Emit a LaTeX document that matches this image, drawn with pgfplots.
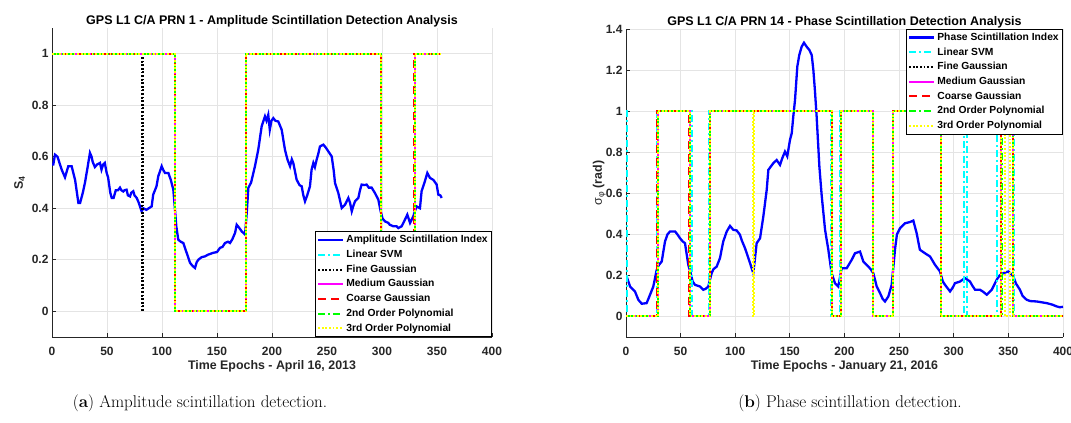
\documentclass[border=0pt]{standalone}
\usepackage{fontspec}
\usepackage{pgfplots}
\pgfplotsset{compat=1.18}
\newfontfamily\hv{Liberation Sans}
\definecolor{gridgray}{RGB}{228,228,228}
\definecolor{axgray}{RGB}{38,38,38}
\definecolor{mygreen}{RGB}{0,255,0}
\definecolor{myyellow}{RGB}{255,255,0}
\definecolor{mycyan}{RGB}{0,255,255}
\definecolor{mymag}{RGB}{255,0,255}

\pgfplotsset{
  mystyle/.style={
    scale only axis,
    axis x line*=bottom, axis y line*=left,
    axis line style={draw=axgray, line width=0.8pt, -},
    grid=major, grid style={gridgray, line width=0.8pt},
    tick style={axgray, line width=0.8pt},
    major tick length=4pt,
    tick align=inside,
    xmin=0, xmax=400, xtick={0,50,...,400},
    ticklabel style={font=\hv\bfseries\fontsize{12}{14}\selectfont, text=axgray},
    xticklabel style={anchor=base, yshift=-19pt},
    /pgf/number format/assume math mode=true,
    xlabel style={font=\hv\bfseries\fontsize{12.4}{14}\selectfont, text=axgray, at={(axis description cs:0.5,0)}, anchor=base, yshift=-33pt},
    ylabel style={font=\hv\bfseries\fontsize{12.4}{14}\selectfont, text=axgray},
    title style={font=\hv\bfseries\fontsize{12.5}{14}\selectfont, at={(axis description cs:0.5,1)}, anchor=base, yshift=-2.5pt},
    legend cell align=left,
    legend style={font=\hv\bfseries\fontsize{10.3}{12}\selectfont, draw=black, line width=0.6pt, fill=white,
      inner xsep=2pt, inner ysep=1pt,
      nodes={text height=7.6pt, text depth=2.2pt, inner ysep=2.45pt, inner xsep=2pt}},
    legend image code/.code={\draw[##1] (0pt,0pt) -- (25pt,0pt);},
    every axis plot/.append style={line width=2pt},
  },
  idx/.style={blue, solid, line width=2.3pt},
  svm/.style={mycyan, dash pattern=on 7pt off 3pt on 2pt off 3pt},
  fine/.style={black, dash pattern=on 1.8pt off 1.8pt},
  med/.style={mymag, solid},
  coarse/.style={red, dash pattern=on 8pt off 5pt},
  poly2/.style={mygreen, dash pattern=on 7pt off 3pt on 2pt off 3pt},
  poly3/.style={myyellow, dash pattern=on 1.8pt off 1.8pt},
}

\begin{document}
\begin{tikzpicture}[x=1pt,y=1pt]
\useasboundingbox (0,0) rectangle (1071,423);

% ---------------- Left: amplitude ----------------
\begin{axis}[mystyle,
  at={(52pt,86pt)}, anchor=south west,
  width=440pt, height=309pt,
  ymin=-0.1, ymax=1.1, ytick={0,0.2,...,1},
  title={GPS L1 C/A PRN 1 - Amplitude Scintillation Detection Analysis},
  xlabel={Time Epochs - April 16, 2013},
  ylabel={S\textsubscript{4}},
  ylabel style={at={(axis description cs:-0.066,0.5)}, anchor=base},
  legend style={at={(axis description cs:1,0)}, anchor=south east},
]
\addplot[idx] coordinates {
(0,0.57)(1.2,0.57)(2.7,0.608)(5,0.60)(8.8,0.55)(11.8,0.52)(14.8,0.563)(17.9,0.563)(21,0.51)(24,0.42)(25.5,0.42)(28,0.46)(30,0.50)(32,0.55)(34.5,0.615)(36,0.60)(37,0.58)(39,0.56)(41,0.57)(43.6,0.576)(45,0.55)(46.5,0.57)(48,0.576)(49.7,0.537)(51,0.52)(53,0.46)(54.3,0.44)(56,0.44)(58,0.47)(60,0.47)(61.8,0.48)(63,0.47)(64.8,0.465)(66,0.47)(67.8,0.472)(69,0.45)(70.9,0.446)(72,0.46)(73.9,0.466)(75,0.45)(77,0.44)(79,0.42)(81.5,0.388)(83,0.40)(85.8,0.394)(88,0.40)(90.6,0.407)(92,0.453)(95,0.485)(96.6,0.524)(99.7,0.563)(101,0.55)(102.7,0.537)(105.8,0.537)(108,0.51)(110.3,0.472)(111.8,0.395)(113,0.33)(114.8,0.278)(117,0.27)(119.4,0.265)(122.4,0.227)(125.5,0.188)(128,0.175)(130,0.168)(131.5,0.19)(133,0.2)(136,0.21)(139,0.213)(142,0.22)(146.7,0.227)(150,0.23)(152.7,0.246)(155,0.25)(157.3,0.265)(160,0.27)(161.8,0.265)(164,0.28)(166.4,0.304)(167.9,0.336)(170,0.325)(172.5,0.31)(175.5,0.298)(177,0.38)(178.5,0.479)(181,0.5)(184.5,0.563)(187.5,0.627)(190.6,0.718)(193.6,0.757)(195,0.74)(196.6,0.763)(198,0.705)(199.5,0.74)(201.2,0.75)(203,0.74)(205.7,0.737)(208.8,0.705)(211.8,0.627)(214,0.59)(216.4,0.563)(218,0.59)(219.4,0.575)(222.4,0.511)(225,0.49)(227,0.485)(228.5,0.45)(230,0.427)(232,0.45)(234.5,0.485)(236,0.55)(237.6,0.576)(239,0.56)(240.6,0.589)(242,0.61)(243.6,0.64)(246.7,0.647)(249,0.635)(251.2,0.621)(254.3,0.601)(256,0.55)(257.3,0.498)(260.3,0.459)(263.4,0.401)(266.4,0.414)(269.4,0.44)(271,0.42)(272.5,0.388)(274,0.41)(275.5,0.427)(278.5,0.44)(280,0.47)(281.5,0.492)(284,0.49)(286,0.492)(288,0.48)(290.6,0.48)(293.6,0.459)(296.7,0.433)(298.8,0.388)(300.5,0.36)(302.7,0.349)(305.8,0.343)(307,0.336)(310.3,0.33)(313.3,0.33)(314.8,0.323)(317.9,0.33)(320.9,0.356)(323,0.375)(325.5,0.343)(328.5,0.369)(330,0.39)(331.5,0.407)(334.5,0.40)(336,0.466)(339,0.505)(341.2,0.537)(343.6,0.518)(346.7,0.51)(349.7,0.492)(351.2,0.453)(353,0.45)(354.3,0.44)
};
\addlegendentry{Amplitude Scintillation Index}
\addplot[svm] coordinates {(0,1)(112,1)(112,0)(176,0)(176,1)(299.5,1)(299.5,0)(330,0)(330,1)(354,1)};
\addlegendentry{Linear SVM}
\addplot[fine] coordinates {(0,1)(82,1)(82,0)(83,0)(83,1)(112,1)(112,0)(176,0)(176,1)(299.5,1)(299.5,0)(330,0)(330,1)(354,1)};
\addlegendentry{Fine Gaussian}
\addplot[med] coordinates {(0,1)(112,1)(112,0)(176,0)(176,1)(299.5,1)(299.5,0)(330,0)(330,1)(354,1)};
\addlegendentry{Medium Gaussian}
\addplot[coarse] coordinates {(0,1)(112,1)(112,0)(176,0)(176,1)(299.5,1)(299.5,0)(329,0)(329,1)(354,1)};
\addlegendentry{Coarse Gaussian}
\addplot[poly2] coordinates {(0,1)(112,1)(112,0)(176,0)(176,1)(299.5,1)(299.5,0)(330,0)(330,1)(354,1)};
\addlegendentry{2nd Order Polynomial}
\addplot[poly3] coordinates {(0,1)(112,1)(112,0)(176,0)(176,1)(299.5,1)(299.5,0)(330,0)(330,1)(354,1)};
\addlegendentry{3rd Order Polynomial}
\end{axis}

% ---------------- Right: phase ----------------
\begin{axis}[mystyle,
  at={(626pt,86pt)}, anchor=south west,
  width=437pt, height=308pt,
  ymin=-0.1, ymax=1.4, ytick={0,0.2,...,1.4},
  title={GPS L1 C/A PRN 14 - Phase Scintillation Detection Analysis},
  xlabel={Time Epochs - January 21, 2016},
  ylabel={{\mdseries σ\textsubscript{φ}} (rad)},
  ylabel style={at={(axis description cs:-0.055,0.5)}, anchor=base},
  legend style={at={(axis description cs:1,1)}, anchor=north east},
]
\addplot[idx] coordinates {
(0,0.2)(0.6,0.195)(3.7,0.146)(8.2,0.122)(11.3,0.081)(14.4,0.062)(18.9,0.065)(22,0.106)(25,0.146)(28.1,0.227)(30,0.25)(32.7,0.268)(35.7,0.365)(38,0.40)(40.3,0.414)(44.9,0.414)(47,0.40)(49.4,0.381)(52,0.365)(54,0.357)(57,0.252)(59.2,0.211)(61,0.17)(63.2,0.154)(67.7,0.146)(70.8,0.13)(73,0.135)(75.3,0.146)(78.4,0.211)(80,0.23)(83,0.243)(86,0.284)(89,0.365)(92.2,0.414)(95.2,0.441)(98.2,0.422)(101.3,0.419)(104.3,0.398)(106,0.37)(108.9,0.333)(111,0.30)(113.5,0.26)(116.5,0.211)(118,0.28)(119.6,0.357)(122.7,0.381)(125.7,0.487)(128.8,0.617)(130.3,0.714)(134.8,0.746)(137.9,0.762)(141,0.738)(143,0.77)(145.5,0.803)(147.6,0.78)(150.1,0.86)(151.7,0.892)(153.1,0.973)(154.7,1.054)(156.8,1.217)(158.6,1.273)(160.8,1.314)(162.9,1.333)(165.3,1.314)(167.8,1.298)(170,1.273)(171.5,1.2)(173,1.095)(174.5,0.973)(177,0.73)(179.1,0.59)(182.2,0.422)(185.2,0.325)(188.2,0.211)(191.3,0.162)(194.3,0.146)(197.4,0.235)(202,0.235)(206.6,0.276)(209.6,0.308)(214.2,0.316)(217.2,0.268)(221.8,0.243)(224,0.23)(226.4,0.21)(229.5,0.146)(232.5,0.114)(235,0.085)(237.1,0.073)(240.1,0.097)(243.2,0.154)(246.2,0.325)(248,0.40)(250.8,0.43)(255.4,0.454)(260,0.46)(263,0.467)(266,0.406)(269,0.325)(273.6,0.308)(278.3,0.292)(282.8,0.252)(287.4,0.219)(290,0.17)(292,0.154)(296.6,0.122)(299,0.14)(301.1,0.162)(305.7,0.17)(310.3,0.187)(314.9,0.17)(317,0.15)(319.5,0.13)(324,0.13)(327,0.12)(330.2,0.106)(334.8,0.13)(339.3,0.179)(342,0.2)(345.4,0.211)(350,0.219)(354.5,0.195)(357,0.16)(360.6,0.13)(363,0.10)(366.8,0.081)(370,0.075)(375.9,0.073)(385,0.065)(390,0.058)(394.2,0.049)(397,0.045)(400,0.047)
};
\addlegendentry{Phase Scintillation Index}
\addplot[svm] coordinates {(0,1)(1,1)(1,0)(28.5,0)(28.5,1)(60,1)(60,0)(76,0)(76,1)(188,1)(188,0)(196,0)(196,1)(226,1)(226,0)(244,0)(244,1)(288.5,1)(288.5,0)(309.5,0)(309.5,1)(312.5,1)(312.5,0)(340,0)(340,1)(355,1)(355,0)(400,0)};
\addlegendentry{Linear SVM}
\addplot[fine] coordinates {(0,0)(29,0)(29,1)(58.5,1)(58.5,0)(77,0)(77,1)(188.5,1)(188.5,0)(197,0)(197,1)(226,1)(226,0)(244.5,0)(244.5,1)(288.5,1)(288.5,0)(343.5,0)(343.5,1)(354,1)(354,0)(400,0)};
\addlegendentry{Fine Gaussian}
\addplot[med] coordinates {(0,0)(29,0)(29,1)(58.5,1)(58.5,0)(77,0)(77,1)(188.5,1)(188.5,0)(197,0)(197,1)(226,1)(226,0)(244.5,0)(244.5,1)(288.5,1)(288.5,0)(343.5,0)(343.5,1)(354,1)(354,0)(400,0)};
\addlegendentry{Medium Gaussian}
\addplot[coarse] coordinates {(0,0)(28.5,0)(28.5,1)(58,1)(58,0)(77,0)(77,1)(188.5,1)(188.5,0)(197,0)(197,1)(226,1)(226,0)(244.5,0)(244.5,1)(288.5,1)(288.5,0)(343,0)(343,1)(354,1)(354,0)(400,0)};
\addlegendentry{Coarse Gaussian}
\addplot[poly2] coordinates {(0,0)(29,0)(29,1)(58.5,1)(58.5,0)(77,0)(77,1)(188.5,1)(188.5,0)(197,0)(197,1)(226,1)(226,0)(244.5,0)(244.5,1)(288.5,1)(288.5,0)(344,0)(344,1)(354.5,1)(354.5,0)(400,0)};
\addlegendentry{2nd Order Polynomial}
\addplot[poly3] coordinates {(0,0)(29,0)(29,1)(58.5,1)(58.5,0)(77,0)(77,1)(116,1)(116,0)(117,0)(117,1)(188.5,1)(188.5,0)(197,0)(197,1)(226,1)(226,0)(244.5,0)(244.5,1)(288.5,1)(288.5,0)(343.5,0)(343.5,1)(347,1)(347,0)(351.5,0)(351.5,1)(354,1)(354,0)(400,0)};
\addlegendentry{3rd Order Polynomial}
\end{axis}

\node[anchor=base, font=\fontsize{17}{20}\selectfont] at (200,16) {(\textbf{a}) Amplitude scintillation detection.};
\node[anchor=base, font=\fontsize{17}{20}\selectfont] at (850,16) {(\textbf{b}) Phase scintillation detection.};
\end{tikzpicture}
\end{document}
